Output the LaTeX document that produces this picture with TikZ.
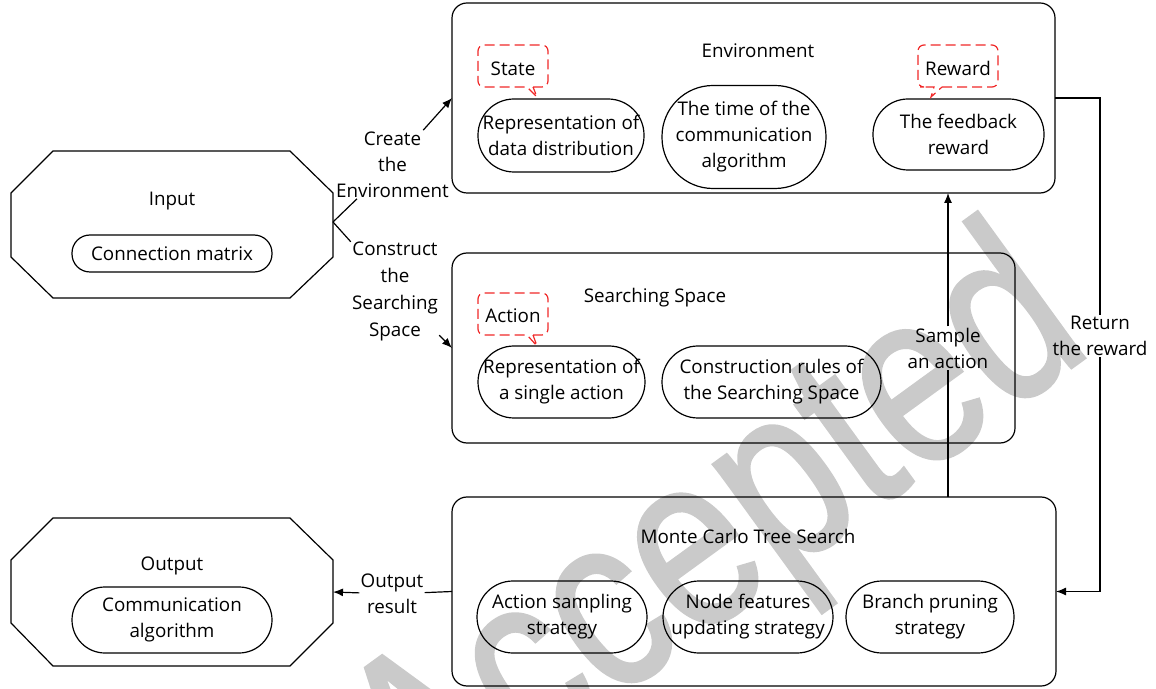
\documentclass[tikz,border=0pt]{standalone}
\usepackage{fontspec}
\setmainfont{Open Sans}
\newfontfamily\markfont[FakeBold=1.3]{Liberation Sans}
\usetikzlibrary{arrows.meta}

\definecolor{calloutred}{HTML}{F02828}
\definecolor{markgray}{HTML}{CACACA}

\tikzset{
  every node/.style={font=\fontsize{9.4}{13}\selectfont, align=center},
  panel/.style={draw, line width=0.6pt, rounded corners=7.5pt, inner sep=0pt, outer sep=0pt},
  pill/.style={draw, line width=0.6pt, inner sep=0pt, outer sep=0pt},
  title/.style={inner sep=0pt},
  edgelabel/.style={inner sep=0.5pt},
  link/.style={line width=0.6pt},
  arrowlink/.style={line width=0.6pt, -{Latex[length=5pt,width=4pt]}},
  callout/.style={draw=calloutred, line width=0.6pt, dash pattern=on 5pt off 2.5pt},
  octagon/.style={draw, line width=0.6pt, line join=miter}
}

\begin{document}
\begin{tikzpicture}[x=0.5pt, y=-0.5pt]
\useasboundingbox (0,0) rectangle (1156,689);

% background stamp
\begin{scope}[shift={(720,543)}, rotate=36, yscale=1.25]
  \node[text=markgray, transform shape, inner sep=0pt,
        font=\markfont\fontsize{100}{100}\selectfont] (stamp) at (0,0) {Accepted};
\end{scope}

% ---------- Input ----------
\draw[octagon] (53,151) -- (290,151) -- (333,193) -- (333,257) -- (290,298)
  -- (53,298) -- (11,257) -- (11,193) -- cycle;
\coordinate (inEast) at (333,222);
\node[title] (inTitle) at (172,201) {Input};
\node[pill, rounded corners=9pt, minimum width=100pt, minimum height=18.5pt] (inMat) at (172,253.5) {Connection matrix};

% ---------- Output ----------
\draw[octagon] (53,518) -- (290,518) -- (333,560) -- (333,623) -- (290,666)
  -- (53,666) -- (11,623) -- (11,560) -- cycle;
\coordinate (outEast) at (333,592);
\node[title] (outTitle) at (172,566) {Output};
\node[pill, rounded corners=16.5pt, minimum width=100pt, minimum height=33pt] (outAlg) at (172,620) {Communication\\algorithm};

% ---------- Environment ----------
\node[panel, minimum width=301.5pt, minimum height=95pt] (env) at (753.5,98) {};
\node[title] (envTitle) at (758,51) {Environment};
\node[pill, rounded corners=18pt, minimum width=83pt, minimum height=36.5pt] (envState) at (561,135.5) {Representation of\\data distribution};
\node[pill, rounded corners=25.5pt, minimum width=82pt, minimum height=51.5pt] (envTime) at (744,137) {The time of the\\communication\\algorithm};
\node[pill, rounded corners=17.5pt, minimum width=85.5pt, minimum height=35.5pt] (envReward) at (958.5,134.5) {The feedback\\reward};

% State callout
\draw[callout] (533,87) [rounded corners=3pt] -- (548,87) -- (548,45) -- (478,45)
  -- (478,87) -- (490,87) [sharp corners] -- (527,87) -- (537,97) -- cycle;
\node[title] (stateTag) at (513,68.5) {State};
% Reward callout
\draw[callout] (942,87) [rounded corners=3pt] -- (998,87) -- (998,45) -- (918,45)
  -- (918,87) -- (926,87) [sharp corners] -- (934,87) -- (931,97) -- cycle;
\node[title] (rewardTag) at (958,68) {Reward};

% ---------- Searching Space ----------
\node[panel, minimum width=281.5pt, minimum height=95pt] (space) at (733.5,348) {};
\node[title] (spaceTitle) at (655,297.5) {Searching Space};
\node[pill, rounded corners=18pt, minimum width=83.5pt, minimum height=36pt] (spaceAct) at (561.5,382) {Representation of\\a single action};
\node[pill, rounded corners=18pt, minimum width=109.5pt, minimum height=36pt] (spaceRules) at (771.5,382) {Construction rules of\\the Searching Space};

% Action callout
\draw[callout] (533,335) [rounded corners=3pt] -- (548,335) -- (548,293) -- (478,293)
  -- (478,335) -- (490,335) [sharp corners] -- (527,335) -- (537,346) -- cycle;
\node[title] (actionTag) at (513,315.5) {Action};

% ---------- Monte Carlo Tree Search ----------
\node[panel, minimum width=302pt, minimum height=94.5pt] (mcts) at (754,591.5) {};
\node[title] (mctsTitle) at (748,536) {Monte Carlo Tree Search};
\node[pill, rounded corners=18pt, minimum width=85pt, minimum height=36pt] (mctsSample) at (562,617) {Action sampling\\strategy};
\node[pill, rounded corners=18pt, minimum width=85pt, minimum height=36pt] (mctsUpdate) at (748,617) {Node features\\updating strategy};
\node[pill, rounded corners=18pt, minimum width=84pt, minimum height=36pt] (mctsPrune) at (930,617) {Branch pruning\\strategy};

% ---------- connectors ----------
\node[edgelabel] (lblCreate) at (392.5,164.5) {Create\\the\\Environment};
\draw[link] (inEast) -- (lblCreate);
\draw[arrowlink] (lblCreate) -- (env.west);

\node[edgelabel, font=\fontsize{9.4}{13.5}\selectfont] (lblConstruct) at (395,291) {Construct\\the\\Searching\\Space};
\draw[link] (inEast) -- (lblConstruct);
\draw[arrowlink] (lblConstruct) -- (space.west);

\node[edgelabel] (lblSample) at (948,348) {Sample\\an action};
\draw[link] (mcts.north -| lblSample) -- (lblSample);
\draw[arrowlink] (lblSample) -- (lblSample |- env.south);

\node[edgelabel] (lblReturn) at (1100,336) {Return\\the reward};
\draw[link] (env.east) -| (lblReturn.north);
\draw[arrowlink] (lblReturn.south) |- (mcts.east);

\node[edgelabel] (lblOutput) at (392,594) {Output\\result};
\draw[link] (mcts.west) -- (lblOutput);
\draw[arrowlink] (lblOutput) -- (outEast);
\end{tikzpicture}
\end{document}
